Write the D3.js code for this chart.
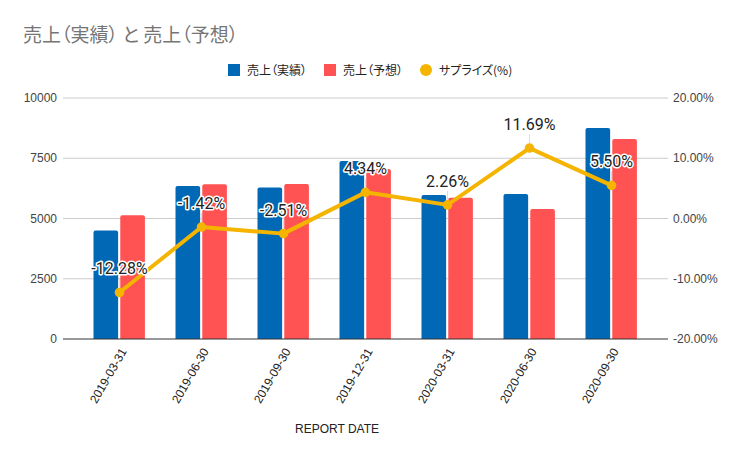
<!DOCTYPE html>
<html><head><meta charset="utf-8">
<script src="https://cdn.jsdelivr.net/npm/d3@7"></script>
<style>
body{margin:0;background:#fff;}
text{font-family:Arial,"Liberation Sans",sans-serif;}
.cjk{font-family:'Noto Sans CJK JP',sans-serif;font-feature-settings:"palt";}
</style></head>
<body><svg id="c" width="742" height="459"></svg>
<script>
const categories = ["2019-03-31","2019-06-30","2019-09-30","2019-12-31","2020-03-31","2020-06-30","2020-09-30"];
const actual = [4500, 6350, 6290, 7390, 5975, 6020, 8760];
const forecast = [5130, 6420, 6430, 7050, 5860, 5390, 8300];
const surprise = [-12.28, -1.42, -2.51, 4.34, 2.26, 11.69, 5.50];
const leftTicks = [0, 2500, 5000, 7500, 10000];
const rightTicks = [-20, -10, 0, 10, 20];
const seriesNames = ["売上（実績）", "売上（予想）", "サプライズ(%)"];
const titleText = "売上（実績） と 売上（予想）";
const colors = ["#0068b5", "#ff5252", "#f4b400"];

const svg = d3.select("#c");
const L = 63, R = 668, T = 98, B = 339;
const x = d3.scaleBand().domain(categories).range([L, R]).paddingInner(0).paddingOuter(0.189);
const yL = d3.scaleLinear().domain([0, 10000]).range([B, T]);
const yR = d3.scaleLinear().domain([-20, 20]).range([B, T]);
const sub = d3.scaleBand().domain([0,1]).range([-26, 25.4]).paddingInner(0.08);

// title
svg.append("text").attr("class", "cjk").attr("x", 23).attr("y", 42).text(titleText)
  .style("font-size", "19px").attr("fill", "#757575");

// legend
const lg = svg.append("g").style("font-size", "12px");
const legX = [228, 324, 420];
seriesNames.forEach((n, i) => {
  if (i < 2) lg.append("rect").attr("x", legX[i]).attr("y", 64).attr("width", 12).attr("height", 12).attr("fill", colors[i]);
  else lg.append("circle").attr("cx", legX[i] + 6).attr("cy", 70).attr("r", 6).attr("fill", colors[i]);
  lg.append("text").attr("class", "cjk").attr("x", legX[i] + 19).attr("y", 74.5).attr("fill", "#222").text(n);
});

// gridlines
svg.append("g").selectAll("line").data(leftTicks.slice(1)).join("line")
  .attr("x1", L).attr("x2", R).attr("y1", d => yL(d)).attr("y2", d => yL(d))
  .attr("stroke", "#cccccc").attr("stroke-width", 1);

// left axis labels
svg.append("g").selectAll("text").data(leftTicks).join("text")
  .attr("x", 57).attr("y", d => yL(d)).attr("dy", "0.35em").attr("text-anchor", "end")
  .style("font-size", "12px").attr("fill", "#444").text(d => d);
// right axis labels
svg.append("g").selectAll("text").data(rightTicks).join("text")
  .attr("x", 673).attr("y", d => yR(d)).attr("dy", "0.35em").attr("text-anchor", "start")
  .style("font-size", "12px").attr("fill", "#444").text(d => d.toFixed(2) + "%");

// bars
function barPath(x0, w, y0, y1, r) {
  r = Math.min(r, w / 2, y1 - y0);
  return `M${x0},${y1}V${y0 + r}Q${x0},${y0} ${x0 + r},${y0}H${x0 + w - r}Q${x0 + w},${y0} ${x0 + w},${y0 + r}V${y1}Z`;
}
const cx = d => x(d) + x.bandwidth() / 2;
[actual, forecast].forEach((arr, si) => {
  svg.append("g").selectAll("path").data(categories).join("path")
    .attr("d", (c, i) => barPath(cx(c) + sub(si), sub.bandwidth(), yL(arr[i]), B, 2))
    .attr("fill", colors[si]);
});

// baseline
svg.append("line").attr("x1", L).attr("x2", R).attr("y1", B).attr("y2", B).attr("stroke", "#333").attr("stroke-width", 1);

// line series
const line = d3.line().x((d, i) => cx(categories[i])).y(d => yR(d));
svg.append("path").datum(surprise).attr("d", line).attr("fill", "none")
  .attr("stroke", colors[2]).attr("stroke-width", 4).attr("stroke-linejoin", "round");
svg.append("g").selectAll("circle").data(surprise).join("circle")
  .attr("cx", (d, i) => cx(categories[i])).attr("cy", d => yR(d)).attr("r", 4.8).attr("fill", colors[2]);

// data labels
const lab = svg.append("g");
surprise.forEach((v, i) => {
  const px = cx(categories[i]), py = yR(v);
  lab.append("line").attr("x1", px).attr("x2", px).attr("y1", py - 5).attr("y2", py - 14)
    .attr("stroke", "#ddd").attr("stroke-width", 1);
  const t = v.toFixed(2) + "%";
  lab.append("text").attr("x", px).attr("y", py - 18).attr("text-anchor", "middle")
    .style("font-family", "Roboto, sans-serif").style("font-size", "16px")
    .attr("fill", "none").attr("stroke", "#fff").attr("stroke-width", 3).attr("stroke-linejoin", "round").text(t);
  lab.append("text").attr("x", px).attr("y", py - 18).attr("text-anchor", "middle")
    .style("font-family", "Roboto, sans-serif").style("font-size", "16px")
    .attr("fill", "#222").text(t);
});

// x labels
svg.append("g").selectAll("text").data(categories).join("text")
  .attr("transform", c => `translate(${cx(c) + 4},${B + 10}) rotate(-60)`)
  .attr("text-anchor", "end").attr("dy", "0.35em")
  .style("font-size", "12px").attr("fill", "#222").text(c => c);

svg.append("text").attr("x", 337).attr("y", 433).attr("text-anchor", "middle")
  .style("font-size", "12px").attr("fill", "#222").text("REPORT DATE");
</script></body></html>
